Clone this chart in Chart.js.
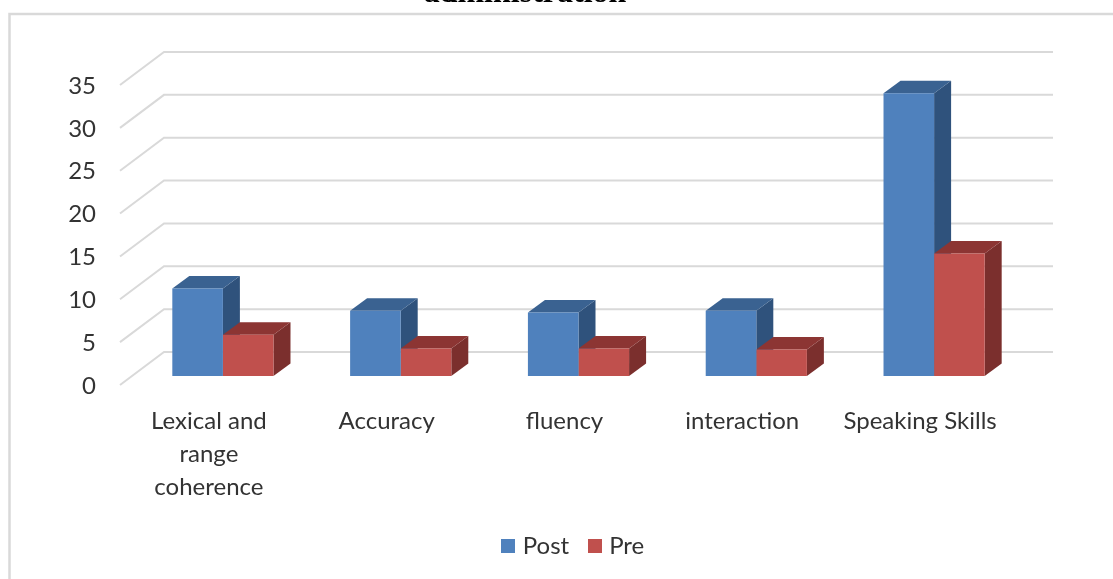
<!DOCTYPE html>
<html>
<head>
<meta charset="utf-8">
<style>
html,body{margin:0;padding:0;background:#fff;overflow:hidden}
canvas{display:block}
</style>
<script src="https://cdn.jsdelivr.net/npm/chart.js@4"></script>
</head>
<body>
<canvas id="c" width="1113" height="579"></canvas>
<script>
const categories = [["Lexical and","range","coherence"],"Accuracy","fluency","interaction","Speaking Skills"];
const postValues = [10.2,7.6,7.4,7.6,33];
const preValues = [4.8,3.2,3.2,3.1,14.3];
const seriesNames = ["Post","Pre"];
const titleText = "administration";
const frontColors = ["#4F81BD","#C0504D"];
const sideColors = ["#2F527C","#7B2F2D"];
const topColors = ["#3A6291","#8C3533"];
const gridColor = "#D9D9D9";
const textColor = "#333333";
const FONT = "Lato";

function swatch(color){
  const c = document.createElement("canvas");
  c.width = 14; c.height = 14;
  const g = c.getContext("2d");
  g.fillStyle = color; g.fillRect(0,0,14,14);
  return c;
}
const swatches = frontColors.map(swatch);

const scene = {
  id:"scene",
  afterLayout(chart){
    const lg = chart.legend;
    const shift = 573 - (lg.left+lg.right)/2 + 2;
    lg.left += shift; lg.right += shift;
    lg.top -= 11; lg.bottom -= 11;
  },
  beforeDatasetsDraw(chart){
    const ctx = chart.ctx, y = chart.scales.y, a = chart.chartArea;
    ctx.save();
    // frame: only the top and left edges show in the crop
    ctx.strokeStyle = gridColor; ctx.lineWidth = 2.5;
    ctx.beginPath();ctx.moveTo(9.5,579);ctx.lineTo(9.5,14);ctx.lineTo(1113,14);ctx.stroke();
    // title fragment cut by the top of the picture
    ctx.fillStyle = "#000"; ctx.font = "bold 32px 'Liberation Serif'"; ctx.textAlign="center"; ctx.textBaseline="alphabetic";
    ctx.fillText(titleText,525,2);
    // 3D walls
    ctx.strokeStyle = gridColor; ctx.lineWidth = 2;
    y.ticks.forEach(t=>{
      const p = y.getPixelForValue(t.value);
      ctx.beginPath();
      ctx.moveTo(a.left-14,p+9);
      ctx.lineTo(a.left+30,p-24);
      ctx.lineTo(a.right+30,p-24);
      ctx.stroke();
    });
    const dx=17, dy=12.5;
    const n = chart.data.labels.length;
    for(let i=0;i<n;i++){
      chart.data.datasets.forEach((d,k)=>{
        const el = chart.getDatasetMeta(k).data[i];
        const l = el.x-el.width/2, r = el.x+el.width/2, t = el.y, b = el.base;
        ctx.fillStyle = sideColors[k];
        ctx.beginPath();ctx.moveTo(r,t);ctx.lineTo(r+dx,t-dy);ctx.lineTo(r+dx,b-dy);ctx.lineTo(r,b);ctx.closePath();ctx.fill();
        ctx.fillStyle = topColors[k];
        ctx.beginPath();ctx.moveTo(l,t);ctx.lineTo(l+dx,t-dy);ctx.lineTo(r+dx,t-dy);ctx.lineTo(r,t);ctx.closePath();ctx.fill();
      });
    }
    ctx.restore();
  }
};

new Chart(document.getElementById("c"),{
  type:"bar",
  data:{labels:categories,datasets:[
    {label:seriesNames[0],data:postValues,backgroundColor:frontColors[0],borderWidth:0},
    {label:seriesNames[1],data:preValues,backgroundColor:frontColors[1],borderWidth:0}
  ]},
  options:{
    responsive:false,animation:false,
    layout:{autoPadding:false,padding:{left:60,right:90,top:76,bottom:0}},
    datasets:{bar:{categoryPercentage:0.569,barPercentage:1}},
    plugins:{
      title:{display:false},tooltip:{enabled:false},
      legend:{position:"bottom",labels:{
        usePointStyle:true,pointStyleWidth:5,boxHeight:14,padding:23,color:textColor,font:{family:FONT,size:24},
        generateLabels(chart){
          return Chart.defaults.plugins.legend.labels.generateLabels(chart).map((it,i)=>Object.assign(it,{pointStyle:swatches[i]}));
        }
      }}
    },
    scales:{
      x:{grid:{display:false,drawTicks:false},border:{display:false},
        afterFit(s){s.height=146;},
        ticks:{maxRotation:0,minRotation:0,autoSkip:false,labelOffset:-14,padding:29,color:textColor,font:{family:FONT,size:24,lineHeight:1.375}}},
      y:{min:0,max:35,grid:{display:false,drawTicks:false},border:{display:false},
        afterFit(s){s.width=74;},
        ticks:{stepSize:5,labelOffset:10,padding:38,color:textColor,font:{family:FONT,size:24}}}
    }
  },
  plugins:[scene]
});
</script>
</body>
</html>
